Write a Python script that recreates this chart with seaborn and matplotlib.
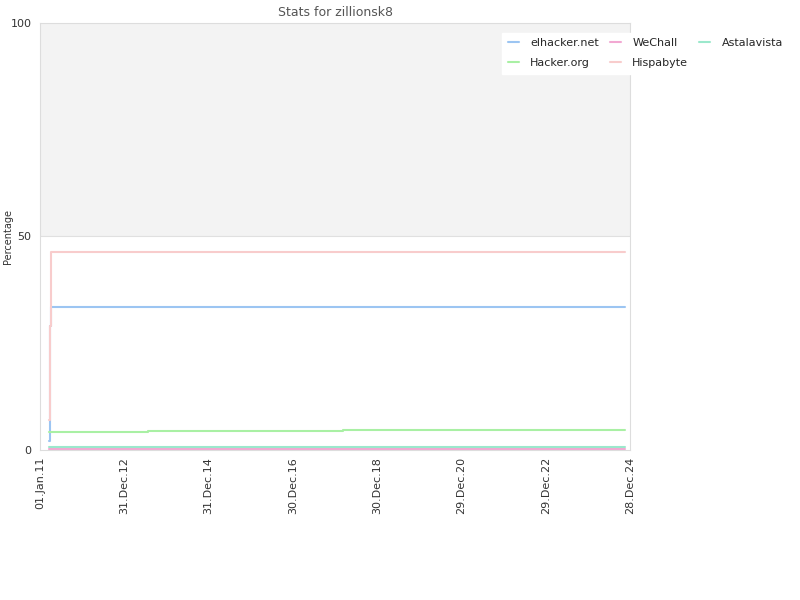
import matplotlib
matplotlib.use("Agg")
import matplotlib.pyplot as plt
import matplotlib.dates as mdates
import seaborn as sns
import pandas as pd

dates = ["2011-03-18", "2011-03-28", "2011-04-06", "2013-07-25", "2018-03-08", "2024-11-13"]
elhacker = [2.0, 29.0, 33.4, 33.4, 33.4, 33.4]
wechall = [0.2, 0.2, 0.2, 0.2, 0.2, 0.2]
astalavista = [0.8, 0.8, 0.8, 0.8, 0.8, 0.8]
hackerorg = [4.2, 4.2, 4.2, 4.5, 4.8, 4.8]
hispabyte = [7.0, 29.0, 46.3, 46.3, 46.3, 46.3]

series = ["elhacker.net", "Hacker.org", "WeChall", "Hispabyte", "Astalavista"]
values = {"elhacker.net": elhacker, "Hacker.org": hackerorg, "WeChall": wechall,
          "Hispabyte": hispabyte, "Astalavista": astalavista}
colors = {"elhacker.net": "#9cc5f2", "Hacker.org": "#a9f0a4", "WeChall": "#f2a8d2",
          "Hispabyte": "#f8cccc", "Astalavista": "#9be8cc"}

xticks = ["2011-01-01", "2012-12-31", "2014-12-31", "2016-12-30", "2018-12-30",
          "2020-12-29", "2022-12-29", "2024-12-28"]

rows = []
for s in series:
    for d, v in zip(dates, values[s]):
        rows.append({"date": pd.Timestamp(d), "value": v, "series": s})
df = pd.DataFrame(rows)

sns.set_theme(style="white")
plt.rcParams["font.family"] = ["DejaVu Sans"]

fig = plt.figure(figsize=(8, 6), dpi=100)
ax = fig.add_axes([0.05, 0.25, 0.7375, 0.7117])
ax.axhspan(50, 100, color="#f3f3f3", zorder=0, lw=0)
ax.axhline(50, color="#e0e0e0", lw=0.8, zorder=0.5)

sns.lineplot(data=df, x="date", y="value", hue="series", hue_order=series,
             palette=colors, drawstyle="steps-post", lw=1.5, ax=ax, legend=False)

ax.set_xlim(pd.Timestamp("2011-01-01"), pd.Timestamp("2024-12-28"))
ax.set_ylim(0, 100)
ax.set_yticks([0, 50, 100])
ax.set_xticks([pd.Timestamp(t) for t in xticks])
ax.xaxis.set_major_formatter(mdates.DateFormatter("%d.%b.%y"))
ax.tick_params(axis="x", labelrotation=90, labelsize=8, colors="#333333", length=3, pad=2)
ax.tick_params(axis="y", labelsize=8, colors="#333333", length=0, pad=6)
ax.set_xlabel("")
ax.set_ylabel("Percentage", fontsize=7, color="#333333")
ax.yaxis.set_label_coords(-0.046, 0.5)
ax.set_title("Stats for zillionsk8", fontsize=9, color="#555555", pad=5)
for sp in ax.spines.values():
    sp.set_color("#dddddd")
    sp.set_linewidth(0.8)

from matplotlib.lines import Line2D
handles = [Line2D([0], [0], color=colors[s], lw=1.5) for s in series]
leg = fig.legend(handles, series, loc="upper left", bbox_to_anchor=(0.621, 0.955),
                 ncol=3, frameon=True, fontsize=8, handlelength=1.0,
                 columnspacing=1.0, handletextpad=1.0, borderpad=0.5, labelspacing=0.9)
leg.get_frame().set_facecolor("white")
leg.get_frame().set_edgecolor("white")
leg.get_frame().set_alpha(1)
leg.get_frame().set_boxstyle("square", pad=0)

fig.savefig("out.png", dpi=100)
